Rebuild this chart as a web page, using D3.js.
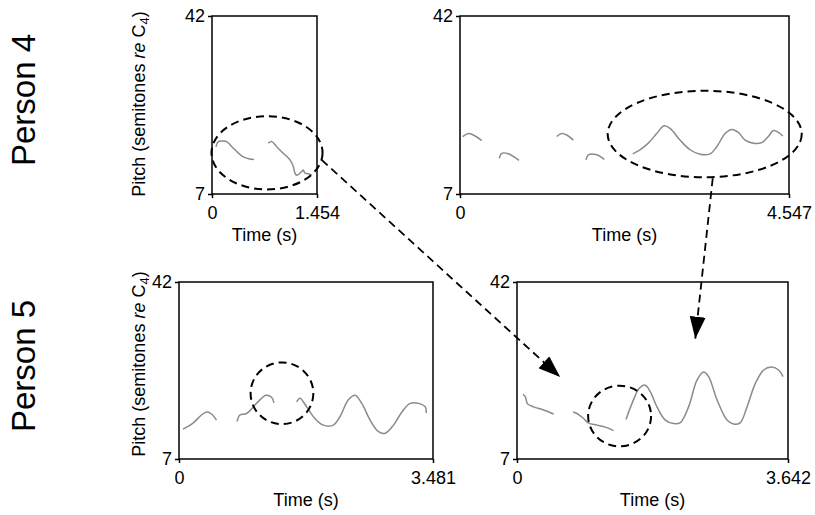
<!DOCTYPE html>
<html>
<head>
    <meta charset="utf-8">
    <style>
        body { margin: 0; background: #fff; }
        svg text { font-family: "Liberation Sans", Arial, Helvetica, sans-serif; fill: #000; }
        .track { fill: none; stroke: #8a8a8a; stroke-width: 1.5; }
        .frame { fill: none; stroke: #000; stroke-width: 1.5; }
        .ring { fill: none; stroke: #000; stroke-width: 2; stroke-dasharray: 8, 5; }
        .pointer { fill: none; stroke: #000; stroke-width: 1.8; stroke-dasharray: 8, 5; }
        .tick line { stroke: #000; stroke-width: 1.5; }
    </style>
    <title>Pitch tracks</title>
</head>
<body>
    <div id="cont"></div>
    <script src="https://cdn.jsdelivr.net/npm/d3@7"></script>
    <script>

        // pitch range shared by every panel (semitones re C4)
        var pitchRange = [7, 42];

        // recording lengths (s)
        var durations = [1.454, 4.547, 3.481, 3.642];

        // pitch tracks: [time (s), pitch (semitones)]
        var person4aTracks = [
            [[0.055, 16.3], [0.087, 17.3], [0.150, 17.4], [0.204, 17.3], [0.295, 16.0], [0.370, 15.0], [0.433, 14.3], [0.520, 13.9], [0.582, 13.8]],
            [[0.780, 17.0], [0.827, 17.3], [0.896, 16.3], [0.987, 15.0], [1.080, 13.7], [1.126, 12.4], [1.149, 11.1], [1.173, 10.7],
             [1.242, 11.4], [1.264, 11.7], [1.288, 11.1], [1.330, 11.0], [1.381, 10.7]]
        ];
        var person4bTracks = [
            [[0.037, 18.3], [0.115, 18.9], [0.184, 18.6], [0.300, 17.5]],
            [[0.543, 14.0], [0.576, 15.0], [0.668, 14.9], [0.815, 13.6]],
            [[1.336, 18.3], [1.405, 18.9], [1.475, 18.6], [1.566, 17.6]],
            [[1.741, 13.7], [1.774, 14.7], [1.889, 14.7], [1.994, 13.8]],
            [[2.387, 14.9], [2.488, 15.7], [2.603, 17.0], [2.719, 18.9], [2.820, 20.4], [2.903, 19.9], [3.041, 17.6], [3.180, 15.7],
             [3.318, 14.8], [3.456, 14.9], [3.549, 16.3], [3.664, 18.9], [3.756, 19.7], [3.847, 19.1], [3.940, 17.6], [4.054, 17.0],
             [4.170, 17.1], [4.262, 18.3], [4.331, 19.5], [4.400, 19.1], [4.461, 18.4]]
        ];
        var person5aTracks = [
            [[0.055, 12.9], [0.192, 14.1], [0.308, 15.7], [0.385, 16.3], [0.445, 15.9], [0.514, 14.7]],
            [[0.797, 14.4], [0.834, 15.7], [0.926, 16.0], [1.017, 17.3], [1.109, 18.7], [1.191, 19.6], [1.269, 19.2], [1.301, 18.1]],
            [[1.613, 18.3], [1.658, 19.0], [1.750, 17.3], [1.864, 15.0], [1.978, 13.7], [2.115, 13.7], [2.207, 15.4], [2.321, 18.7],
             [2.413, 19.6], [2.505, 18.0], [2.619, 14.7], [2.734, 12.4], [2.826, 12.1], [2.940, 13.7], [3.055, 16.3], [3.169, 18.0],
             [3.307, 17.9], [3.376, 17.3], [3.389, 16.1]]
        ];
        var person5bTracks = [
            [[0.081, 19.8], [0.112, 19.3], [0.142, 17.9], [0.223, 17.3], [0.357, 16.7], [0.492, 15.9]],
            [[0.753, 16.3], [0.806, 16.0], [0.895, 15.0], [0.962, 14.1], [1.075, 13.7], [1.187, 13.3], [1.298, 12.6]],
            [[1.465, 14.8], [1.546, 18.0], [1.644, 21.0], [1.724, 21.6], [1.791, 20.3], [1.881, 17.3], [1.993, 14.7], [2.105, 14.0],
             [2.195, 14.2], [2.306, 17.3], [2.419, 22.6], [2.508, 24.2], [2.575, 23.3], [2.688, 18.7], [2.822, 14.7], [2.911, 13.9],
             [3.001, 14.2], [3.091, 17.3], [3.202, 21.9], [3.314, 24.6], [3.427, 25.2], [3.516, 24.6], [3.575, 23.3]]
        ];

        // dashed rings: [centre time, centre pitch, half width (s), half height (semitones)]
        var rings = [
            [0.762, 15.1, 0.769, 7.2],
            [3.382, 18.8, 1.341, 8.5],
            [1.411, 20.0, 0.430, 6.1],
            [1.379, 15.5, 0.423, 6.0]
        ];

        // arrows: from panel/time/pitch to panel/time/pitch
        var arrows = [
            [0, 1.519, 13.7, 3, 0.580, 23.2],
            [1, 3.493, 10.1, 3, 2.396, 30.8]
        ];

        var rowLabels = ["Person 4", "Person 5"];

        var width = 815, height = 515;

        // panel boxes in page pixels
        var boxes = [
            { x0: 212, x1: 317, y0: 16, y1: 194 },
            { x0: 460, x1: 789, y0: 16, y1: 194 },
            { x0: 179, x1: 433, y0: 282, y1: 459 },
            { x0: 517, x1: 788, y0: 282, y1: 459 }
        ];
        var allTracks = [person4aTracks, person4bTracks, person5aTracks, person5bTracks];

        var svg = d3.select("#cont").append("svg")
            .attr("width", width)
            .attr("height", height);

        svg.append("defs").append("marker")
            .attr("id", "head")
            .attr("markerUnits", "userSpaceOnUse")
            .attr("viewBox", "0 0 22 16")
            .attr("refX", 22)
            .attr("refY", 8)
            .attr("markerWidth", 22)
            .attr("markerHeight", 16)
            .attr("orient", "auto")
            .append("path")
            .attr("d", "M0,0 L22,8 L0,16 Z")
            .attr("fill", "#000");

        var fmt = d3.format(".3f");

        var scales = boxes.map(function (b, i) {
            return {
                x: d3.scaleLinear().domain([0, durations[i]]).range([b.x0, b.x1]),
                y: d3.scaleLinear().domain(pitchRange).range([b.y1, b.y0])
            };
        });

        boxes.forEach(function (b, i) {
            var x = scales[i].x, y = scales[i].y;
            var g = svg.append("g");

            var line = d3.line()
                .x(function (d) { return x(d[0]); })
                .y(function (d) { return y(d[1]); })
                .curve(d3.curveCatmullRom);

            g.selectAll(".track")
                .data(allTracks[i])
                .enter().append("path")
                .attr("class", "track")
                .attr("d", line);

            g.append("rect")
                .attr("class", "frame")
                .attr("x", b.x0).attr("y", b.y0)
                .attr("width", b.x1 - b.x0).attr("height", b.y1 - b.y0);

            var ax = g.append("g")
                .attr("transform", "translate(0," + b.y1 + ")")
                .call(d3.axisBottom(x).tickValues([0, durations[i]]).tickSize(4).tickPadding(8)
                    .tickFormat(function (d) { return d === 0 ? "0" : fmt(d); }));
            ax.select(".domain").remove();

            var ay = g.append("g")
                .attr("transform", "translate(" + b.x0 + ",0)")
                .call(d3.axisLeft(y).tickValues(pitchRange).tickSize(4).tickPadding(3));
            ay.select(".domain").remove();

            g.selectAll(".tick text").style("font-size", "18px").style("font-family", null);

            g.append("text")
                .attr("x", (b.x0 + b.x1) / 2)
                .attr("y", b.y1 + 47)
                .attr("text-anchor", "middle")
                .style("font-size", "18px")
                .text("Time (s)");

            // dashed ring around the highlighted passage
            var r = rings[i];
            g.append("ellipse")
                .attr("class", "ring")
                .attr("cx", x(r[0]))
                .attr("cy", y(r[1]))
                .attr("rx", x(r[2]) - x(0))
                .attr("ry", y(0) - y(r[3]));
        });

        // y axis titles, one per row
        [{ x: 145, y: 104 }, { x: 145, y: 364 }].forEach(function (p) {
            var t = svg.append("text")
                .attr("transform", "translate(" + p.x + "," + p.y + ") rotate(-90)")
                .attr("text-anchor", "middle")
                .style("font-size", "18px");
            t.append("tspan").text("Pitch (semitones ");
            t.append("tspan").style("font-style", "italic").text("re");
            t.append("tspan").text(" C");
            t.append("tspan").attr("dy", 4).style("font-size", "13px").text("4");
            t.append("tspan").attr("dy", -4).text(")");
        });

        // row labels
        svg.selectAll(".rowlab")
            .data(rowLabels)
            .enter().append("text")
            .attr("class", "rowlab")
            .attr("transform", function (d, i) { return "translate(35," + (i === 0 ? 100 : 366) + ") rotate(-90)"; })
            .attr("text-anchor", "middle")
            .style("font-size", "33px")
            .text(function (d) { return d; });

        // dashed arrows linking the rings
        svg.selectAll(".pointer")
            .data(arrows)
            .enter().append("line")
            .attr("class", "pointer")
            .attr("x1", function (d) { return scales[d[0]].x(d[1]); })
            .attr("y1", function (d) { return scales[d[0]].y(d[2]); })
            .attr("x2", function (d) { return scales[d[3]].x(d[4]); })
            .attr("y2", function (d) { return scales[d[3]].y(d[5]); })
            .attr("marker-end", "url(#head)");

    </script>
</body>
</html>
